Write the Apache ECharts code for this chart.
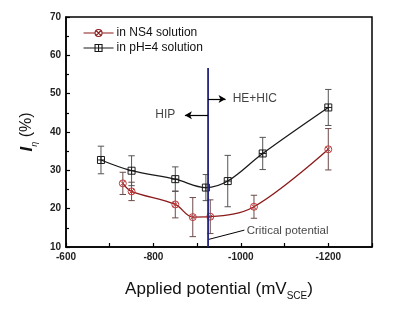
<!DOCTYPE html>
<html><head><meta charset="utf-8">
<script src="https://cdn.jsdelivr.net/npm/echarts@6/dist/echarts.min.js"></script>
<style>html,body{margin:0;padding:0;background:#fff}#c{width:403px;height:311px}</style>
</head><body><div id="c"></div>
<script>
// Data
const potNS4 = [-730, -750, -850, -890, -930, -1030, -1200];
const valNS4 = [26.6, 24.5, 21.1, 17.8, 17.9, 20.5, 35.5];
const errNS4 = [2.9, 2.4, 3.5, 5.1, 4.4, 3.0, 5.4];
const potPH4 = [-680, -750, -850, -920, -970, -1050, -1200];
const valPH4 = [32.7, 29.9, 27.7, 25.5, 27.2, 34.4, 46.4];
const errPH4 = [3.6, 3.9, 3.2, 3.4, 6.7, 4.2, 4.7];
const xTickLabels = ['-600', '-800', '-1000', '-1200'];
const criticalPotential = -925;
const criticalTop = 56.7;
const hipArrowEnd = -872;
const heArrowEnd = -965;
const hipY = 44.4, heY = 48.6;

const FONT = 'Liberation Sans, Arial, sans-serif';
const chart = echarts.init(document.getElementById('c'));

function errBar(color) {
  return function (params, api) {
    const x = api.value(0), lo = api.value(1), hi = api.value(2);
    const p1 = api.coord([x, hi]), p2 = api.coord([x, lo]);
    const w = 3.2;
    const st = { stroke: color, lineWidth: 1 };
    return { type: 'group', children: [
      { type: 'line', shape: { x1: p1[0], y1: p1[1], x2: p2[0], y2: p2[1] }, style: st },
      { type: 'line', shape: { x1: p1[0] - w, y1: p1[1], x2: p1[0] + w, y2: p1[1] }, style: st },
      { type: 'line', shape: { x1: p2[0] - w, y1: p2[1], x2: p2[0] + w, y2: p2[1] }, style: st }
    ]};
  };
}
const pairs = (xs, ys) => xs.map((x, i) => [x, ys[i]]);
const bars = (xs, ys, es) => xs.map((x, i) => [x, ys[i] - es[i], ys[i] + es[i]]);

const sqSym = 'path://M0,0L10,0L10,10L0,10ZM5,0L5,10M0,5L10,5';
const ciSym = 'path://M5,0A5,5 0 1 1 4.99,0ZM1.5,1.5L8.5,8.5M8.5,1.5L1.5,8.5';
// legend icons: line with the marker in the middle (box 30 x 7)
const sqLegend = 'path://M0,3.5L11.5,3.5M18.5,3.5L30,3.5M11.5,0L18.5,0L18.5,7L11.5,7ZM15,0L15,7M11.5,3.5L18.5,3.5';
const ciLegend = 'path://M0,3.5L11.5,3.5M18.5,3.5L30,3.5M15,0A3.5,3.5 0 1 1 14.99,0ZM12.5,1L17.5,6M17.5,1L12.5,6';

chart.setOption({
  animation: false,
  grid: { left: 66, right: 31, top: 17, bottom: 64, show: true, borderColor: '#000', borderWidth: 1.5, backgroundColor: 'transparent' },
  legend: {
    data: [
      { name: 'in NS4 solution', icon: ciLegend, itemStyle: { color: 'rgba(255,255,255,0)', borderColor: '#8b1a1a', borderWidth: 1.1 } },
      { name: 'in pH=4 solution', icon: sqLegend, itemStyle: { color: 'rgba(255,255,255,0)', borderColor: '#1a1a1a', borderWidth: 1.1 } }
    ],
    orient: 'vertical', left: 78, top: 22, itemWidth: 30, itemHeight: 7, itemGap: 3,
    textStyle: { fontFamily: FONT, fontSize: 12, color: '#111', padding: [0, 0, 0, -2] }
  },
  xAxis: {
    type: 'value', min: -1300, max: -600, interval: 100, inverse: true,
    axisLine: { show: true, onZero: false, lineStyle: { color: '#000', width: 1.5 } },
    axisTick: { show: true, inside: true, length: 4, lineStyle: { color: '#000', width: 1.2 } },
    splitLine: { show: false },
    axisLabel: {
      margin: 5, fontFamily: FONT, fontWeight: 'bold', fontSize: 10, color: '#222',
      formatter: v => { const s = String(v); return xTickLabels.indexOf(s) >= 0 ? s : ''; }
    },
    name: '{a|Applied potential (mV}{s|SCE}{a|)}', nameLocation: 'middle', nameGap: 30,
    nameTextStyle: { rich: {
      a: { fontFamily: FONT, fontSize: 17, color: '#111', lineHeight: 24, verticalAlign: 'middle' },
      s: { fontFamily: FONT, fontSize: 10, color: '#111', lineHeight: 24, verticalAlign: 'bottom' }
    } }
  },
  yAxis: {
    type: 'value', min: 10, max: 70, interval: 10,
    axisLine: { show: true, lineStyle: { color: '#000', width: 1.5 } },
    axisTick: { show: true, inside: true, length: 4, lineStyle: { color: '#000', width: 1.2 } },
    minorTick: { show: true, splitNumber: 2, length: 3, lineStyle: { color: '#000', width: 1.2 } },
    splitLine: { show: false },
    axisLabel: { margin: 5, fontFamily: FONT, fontWeight: 'bold', fontSize: 10, color: '#222' },
    name: '{i|I}{s|η}{a| (%)}', nameLocation: 'middle', nameGap: 27, nameRotate: 90,
    nameTextStyle: { rich: {
      i: { fontFamily: FONT, fontSize: 17, fontStyle: 'italic', fontWeight: 'bold', color: '#111', lineHeight: 24, verticalAlign: 'middle' },
      s: { fontFamily: FONT, fontSize: 9, fontStyle: 'italic', color: '#111', lineHeight: 24, verticalAlign: 'bottom' },
      a: { fontFamily: FONT, fontSize: 16, color: '#111', lineHeight: 24, verticalAlign: 'middle' }
    } }
  },
  series: [
    { type: 'custom', name: 'errNS4', renderItem: errBar('#6e4a4a'), data: bars(potNS4, valNS4, errNS4), encode: { x: 0, y: [1, 2] }, z: 2, silent: true },
    { type: 'custom', name: 'errPH4', renderItem: errBar('#555'), data: bars(potPH4, valPH4, errPH4), encode: { x: 0, y: [1, 2] }, z: 2, silent: true },
    {
      type: 'line', name: 'in NS4 solution', data: pairs(potNS4, valNS4), smooth: 0.35,
      symbol: ciSym, symbolSize: 7,
      lineStyle: { color: '#8b1a1a', width: 1.3 },
      itemStyle: { color: 'rgba(255,255,255,0)', borderColor: '#c0393b', borderWidth: 1 }, z: 3
    },
    {
      type: 'line', name: 'in pH=4 solution', data: pairs(potPH4, valPH4), smooth: 0.35,
      symbol: sqSym, symbolSize: 7,
      lineStyle: { color: '#1a1a1a', width: 1.3 },
      itemStyle: { color: 'rgba(255,255,255,0)', borderColor: '#1a1a1a', borderWidth: 1 }, z: 3
    },
    {
      type: 'line', name: 'critical', data: [[criticalPotential, 10], [criticalPotential, criticalTop]],
      symbol: 'none', lineStyle: { color: '#23237e', width: 1.8 }, z: 4, silent: true,
      markLine: {
        silent: true, symbol: ['none', 'arrow'], symbolSize: [6, 7],
        lineStyle: { color: '#000', width: 1.2, type: 'solid' }, label: { show: false },
        data: [
          [{ coord: [criticalPotential, hipY] }, { coord: [hipArrowEnd, hipY] }],
          [{ coord: [criticalPotential, heY] }, { coord: [heArrowEnd, heY] }]
        ]
      }
    },
    {
      type: 'line', name: 'leader', data: [[-927, 12.0], [-1008, 14.4]], symbol: 'none',
      lineStyle: { color: '#000', width: 1 }, z: 4, silent: true
    },
    {
      type: 'scatter', name: 'notes', symbolSize: 0, silent: true, z: 5,
      data: [
        { value: [-827, hipY], label: { formatter: 'HIP' } },
        { value: [-1032, heY], label: { formatter: 'HE+HIC' } },
        { value: [-1107, 14.3], label: { formatter: 'Critical potential', fontSize: 11.5 } }
      ],
      label: { show: true, position: 'inside', fontFamily: FONT, fontSize: 12, color: '#111' }
    }
  ]
});
</script></body></html>
